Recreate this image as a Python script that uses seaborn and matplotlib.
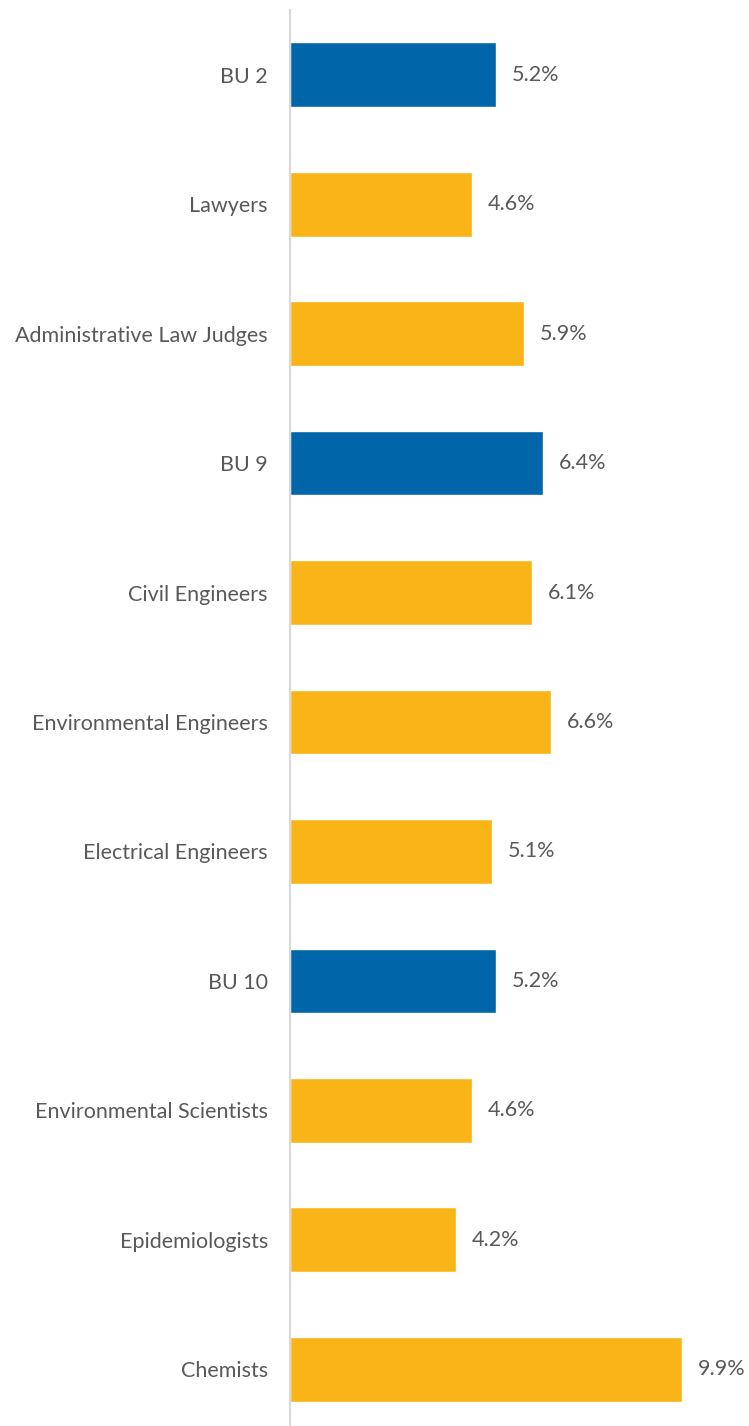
import matplotlib
matplotlib.use("Agg")
import matplotlib.pyplot as plt
import seaborn as sns
import pandas as pd

# Data
categories = ["BU 2", "Lawyers", "Administrative Law Judges", "BU 9",
              "Civil Engineers", "Environmental Engineers", "Electrical Engineers",
              "BU 10", "Environmental Scientists", "Epidemiologists", "Chemists"]
values = [5.2, 4.6, 5.9, 6.4, 6.1, 6.6, 5.1, 5.2, 4.6, 4.2, 9.9]
is_unit = [True, False, False, True, False, False, False, True, False, False, False]

BLUE = "#0065A9"
YELLOW = "#F9B418"
TEXT = "#595959"

df = pd.DataFrame({"Category": categories, "Value": values})
colors = [BLUE if u else YELLOW for u in is_unit]

sns.set_theme(style="white")
plt.rcParams['font.family'] = ['Lato', 'DejaVu Sans']

fig = plt.figure(figsize=(7.49, 14.26), dpi=100)
ax = fig.add_axes([290 / 749, -8 / 1426, 1 - 290 / 749, 1424 / 1426])

sns.barplot(data=df, y="Category", x="Value", hue="Category", palette=colors,
            orient="h", width=0.5, legend=False, ax=ax, saturation=1)

# Value labels
for i, v in enumerate(values):
    ax.text(v + 0.4, i, f"{v:.1f}%", va="center", ha="left", fontsize=15.5, color=TEXT)

ax.set_xlim(0, 11.59)
ax.set_ylim(len(categories) - 0.5, -0.5)
ax.set_xlabel("")
ax.set_ylabel("")
ax.set_xticks([])
ax.tick_params(axis="y", length=0, pad=16, labelsize=15.5, labelcolor=TEXT)

for side in ["top", "right", "bottom"]:
    ax.spines[side].set_visible(False)
ax.spines["left"].set_color("#D9D9D9")
ax.spines["left"].set_linewidth(1.5)

fig.savefig("out.png", dpi=100, facecolor="white")
plt.close(fig)
